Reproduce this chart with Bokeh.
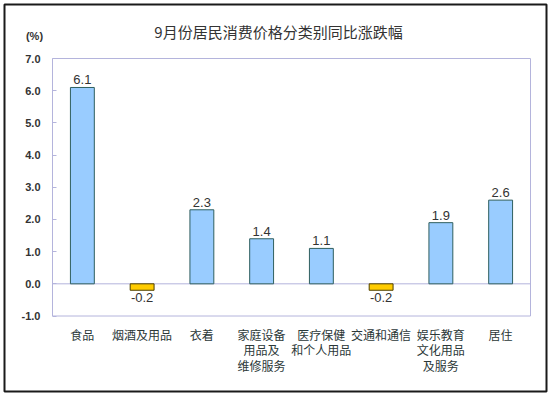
from bokeh.plotting import figure
from bokeh.models import Range1d, FixedTicker, ColumnDataSource, LabelSet, LinearAxis
from bokeh.core.properties import value
from bokeh.embed import file_html
from bokeh.resources import INLINE

categories = ["食品", "烟酒及用品", "衣着", "家庭设备\n用品及\n维修服务", "医疗保健\n和个人用品",
              "交通和通信", "娱乐教育\n文化用品\n及服务", "居住"]
values = [6.1, -0.2, 2.3, 1.4, 1.1, -0.2, 1.9, 2.6]
y_ticks = [-1.0, 0.0, 1.0, 2.0, 3.0, 4.0, 5.0, 6.0, 7.0]
title_text = "9月份居民消费价格分类别同比涨跌幅"
unit_text = "(%)"

# layout (page pixels)
W, H = 550, 395
PAD = 4                       # outer border inset
PX_L, PX_R = 52.0, 530.0      # plot area left/right
PY_T, PY_B = 58.0, 315.5      # plot area top/bottom

n = len(categories)
ux = (PX_R - PX_L) / n
uy = (PY_B - PY_T) / (y_ticks[-1] - y_ticks[0])
x0 = -(PX_L - PAD) / ux
x1 = n + (W - PAD - PX_R) / ux
y1 = y_ticks[-1] + (PY_T - PAD) / uy
y0 = y_ticks[0] - (H - PAD - PY_B) / uy

xs = [i + 0.5 for i in range(n)]
fills = ["#99CCFF" if v >= 0 else "#FFCC00" for v in values]
lines = ["#2F5F5F" if v >= 0 else "#4F4000" for v in values]
label_txt = [f"{v:.1f}" for v in values]
label_off = [3 if v >= 0 else -3 for v in values]
label_base = ["alphabetic" if v >= 0 else "top" for v in values]

src = ColumnDataSource(dict(x=xs, top=values, fill=fills, line=lines,
                            txt=label_txt, off=label_off, base=label_base))

p = figure(width=W, height=H, output_backend="svg", toolbar_location=None,
           x_range=Range1d(x0, x1), y_range=Range1d(y0, y1),
           x_axis_type=None, y_axis_type=None,
           min_border_left=PAD, min_border_right=PAD, min_border_top=PAD, min_border_bottom=PAD)
p.background_fill_color = "white"
p.border_fill_color = "white"
p.outline_line_color = "#1A1A1A"
p.outline_line_width = 2
p.xgrid.visible = False
p.ygrid.visible = False

# plot area box and zero line
p.quad(left=[0], right=[n], bottom=[y_ticks[0]], top=[y_ticks[-1]],
       fill_color=None, line_color="#B4B4DC", line_width=1)
p.segment(x0=[0], x1=[n], y0=[0], y1=[0], line_color="#B4B4DC", line_width=1)

p.vbar(x="x", top="top", bottom=0, width=0.4, source=src,
       fill_color="fill", line_color="line", line_width=1)

p.add_layout(LabelSet(x="x", y="top", text="txt", y_offset="off", text_baseline="base",
                      text_align="center", source=src, text_font=value("Liberation Sans"),
                      text_font_size="13px", text_color="#333333"))

# y axis
yax = LinearAxis(fixed_location=0, ticker=FixedTicker(ticks=y_ticks))
yax.major_label_overrides = {t: f"{t:.1f}" for t in y_ticks}
yax.major_tick_in = 4
yax.major_tick_out = 0
yax.minor_tick_line_color = None
yax.axis_line_color = None
yax.major_tick_line_color = "#B4B4DC"
yax.major_label_text_font = "Liberation Sans"
yax.major_label_text_font_style = "bold"
yax.major_label_text_font_size = "11px"
yax.major_label_text_color = "#333333"
yax.major_label_standoff = 12
p.add_layout(yax, "left")

# x axis
xax = LinearAxis(fixed_location=y_ticks[0], ticker=FixedTicker(ticks=xs))
xax.major_label_overrides = {x: c for x, c in zip(xs, categories)}
xax.major_tick_line_color = None
xax.minor_tick_line_color = None
xax.axis_line_color = None
xax.major_label_text_font = "Noto Sans CJK SC"
xax.major_label_text_font_size = "12px"
xax.major_label_text_color = "#2B3838"
xax.major_label_text_line_height = 0.9
xax.major_label_standoff = 4
p.add_layout(xax, "below")

# title and unit
p.text(x=[(278 - PX_L) / ux], y=[y_ticks[-1] + (PY_T - 31) / uy], text=[title_text],
       text_align="center", text_baseline="middle", text_font=value("Noto Sans CJK SC"),
       text_font_size="15px", text_color="#333333")
p.text(x=[(34 - PX_L) / ux], y=[y_ticks[-1] + (PY_T - 35) / uy], text=[unit_text],
       text_align="center", text_baseline="middle", text_font=value("Liberation Sans"),
       text_font_style="bold", text_font_size="11px", text_color="#333333")

open("out.html", "w").write(file_html(p, INLINE))
